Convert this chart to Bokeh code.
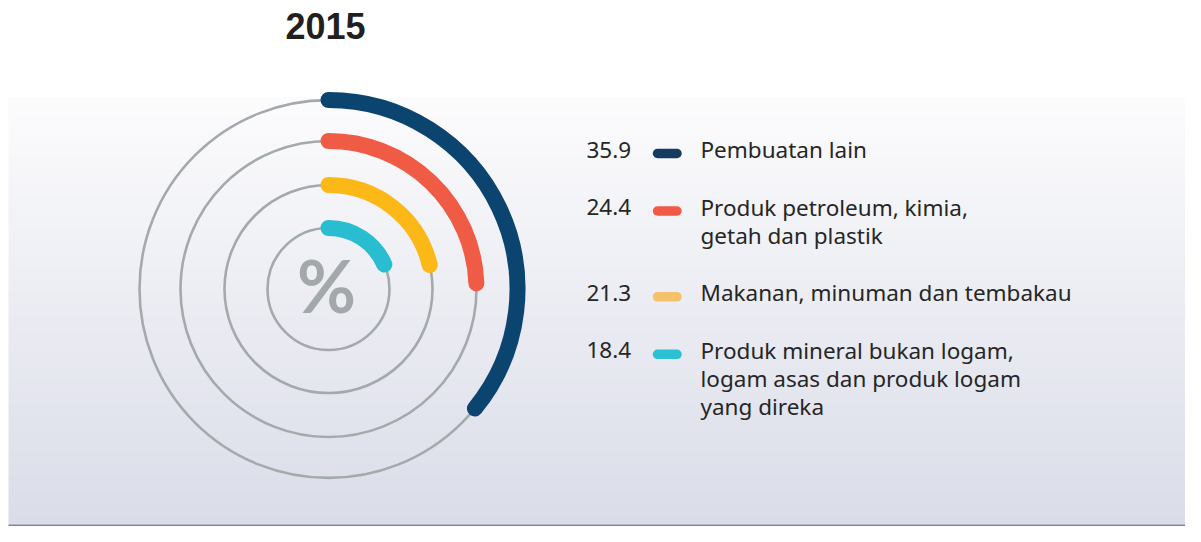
import numpy as np
from bokeh.plotting import figure
from bokeh.models import Range1d
from bokeh.core.properties import value
from bokeh.embed import file_html
from bokeh.resources import INLINE

# ---- data ----
title = "2015"
values = [35.9, 24.4, 21.3, 18.4]
value_labels = ["35.9", "24.4", "21.3", "18.4"]
categories = [
    "Pembuatan lain",
    "Produk petroleum, kimia,\ngetah dan plastik",
    "Makanan, minuman dan tembakau",
    "Produk mineral bukan logam,\nlogam asas dan produk logam\nyang direka",
]
arc_colors = ["#0c4470", "#ef5b45", "#fbb817", "#28bdd0"]
legend_colors = ["#163b60", "#f15a45", "#f3c26b", "#2bc0d2"]

# ---- layout (screen pixels) ----
W, H = 1185, 526
cx, cy = 328, 288.5
radii = [189, 148, 104, 61]
ring_color = "#a4aaac"
text_color = "#262626"
FONT = "Noto Sans"

p = figure(width=W, height=H, x_range=Range1d(0, W), y_range=Range1d(-H, 0),
           output_backend="svg", toolbar_location=None, min_border=0,
           x_axis_location=None, y_axis_location=None)
p.grid.visible = False
p.outline_line_color = None
p.background_fill_color = "white"
p.border_fill_color = "white"

# background gradient panel
panel_top, panel_bot = 97, 524
n = 256
t = np.linspace(0, 1, n)  # 0 = bottom, 1 = top
bot_c = np.array([218, 220, 232], dtype=float)
top_c = np.array([252, 252, 253], dtype=float)
cols = bot_c[None, :] * (1 - t[:, None]) + top_c[None, :] * t[:, None]
img = np.zeros((n, 1), dtype=np.uint32)
view = img.view(dtype=np.uint8).reshape((n, 1, 4))
view[:, 0, 0] = cols[:, 0].round()
view[:, 0, 1] = cols[:, 1].round()
view[:, 0, 2] = cols[:, 2].round()
view[:, 0, 3] = 255
p.image_rgba(image=[img], x=8, y=-panel_bot, dw=W - 8, dh=panel_bot - panel_top)
p.quad(left=[8], right=[W], bottom=[-H], top=[-panel_bot], fill_color="#7083b4", line_color=None)

# rings
p.circle(x=[cx] * len(radii), y=[-cy] * len(radii), radius=radii,
         fill_color=None, line_color=ring_color, line_width=2.6)

# arcs from values (start at top, clockwise)
start = [np.pi / 2] * len(values)
end = [np.pi / 2 - v / 100.0 * 2 * np.pi for v in values]
p.arc(x=[cx] * len(values), y=[-cy] * len(values), radius=radii,
      start_angle=start, end_angle=end, direction="clock",
      line_color=arc_colors, line_width=16, line_cap="round")

# percent sign
p.text(x=[cx - 2], y=[-(cy - 4)], text=["%"], text_font=value("Lato"), text_font_size="72px",
       text_font_style="bold", text_color="#a3a8aa", text_align="center", text_baseline="middle")

# title
p.text(x=[325], y=[-25], text=[title], text_font=value("Liberation Sans"),
       text_font_style="bold", text_font_size="36px", text_color="#231f20",
       text_align="center", text_baseline="middle")

# legend
row_y = []
y = 152
for lab in categories:
    row_y.append(y)
    y += 57.5 + (lab.count("\n")) * 28.3

dy_text = -3
p.text(x=[586] * len(values), y=[-(v + dy_text) for v in row_y], text=value_labels,
       text_font=value(FONT), text_font_size="22.5px", text_color=text_color,
       text_align="left", text_baseline="middle")
p.segment(x0=[657] * len(values), x1=[676.5] * len(values), y0=[-(v + 1) for v in row_y],
          y1=[-(v + 1) for v in row_y], line_color=legend_colors, line_width=9.5, line_cap="round")

lx, ly, lt = [], [], []
for yy, lab in zip(row_y, categories):
    for k, line in enumerate(lab.split("\n")):
        lx.append(700)
        ly.append(-(yy + dy_text + k * 28.3))
        lt.append(line)
p.text(x=lx, y=ly, text=lt, text_font=value(FONT), text_font_size="22.5px",
       text_color=text_color, text_align="left", text_baseline="middle")

open("out.html", "w").write(file_html(p, INLINE))
